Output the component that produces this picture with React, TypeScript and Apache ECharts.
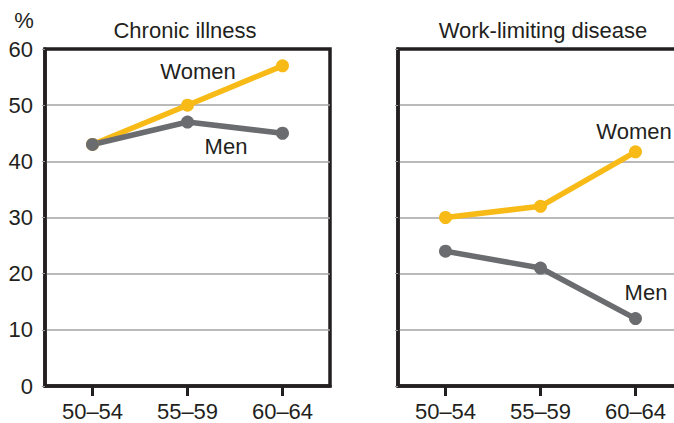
import React, { useEffect, useRef } from "react";
import * as echarts from "echarts";

const ageGroups = ["50–54", "55–59", "60–64"];
const chronicWomen = [43, 50, 57];
const chronicMen = [43, 47, 45];
const workWomen = [30, 32, 41.7];
const workMen = [24, 21, 12];
const yTicks = [0, 10, 20, 30, 40, 50, 60];

const WOMEN = "#F7BA16";
const MEN = "#6B6C6F";
const INK = "#231F20";
const FONT = "Liberation Sans, Arial, sans-serif";
const FS = 22;

// The drawing surface is a little wider than the visible frame so the
// right-hand panel runs off the edge, its closing border clipped away.
const VIEW_W = 674;
const VIEW_H = 423;
const CANVAS_W = 686;

export default function App() {
  const ref = useRef<HTMLDivElement>(null);

  useEffect(() => {
    if (!ref.current) return;
    const chart = echarts.init(ref.current, null, { renderer: "svg" });

    const xAxisBase = (gridIndex: number) => ({
      type: "category" as const,
      gridIndex,
      data: ageGroups,
      boundaryGap: true,
      axisLine: { show: true, lineStyle: { color: INK, width: 3.5 } },
      axisTick: {
        show: true,
        alignWithLabel: true,
        length: 10,
        lineStyle: { color: INK, width: 3 },
      },
      axisLabel: { color: INK, fontSize: FS, fontFamily: FONT, margin: 14 },
      splitLine: { show: false },
    });

    const yAxisBase = (gridIndex: number, showLabels: boolean) => ({
      type: "value" as const,
      gridIndex,
      min: yTicks[0],
      max: yTicks[yTicks.length - 1],
      interval: 10,
      axisLine: { show: true, lineStyle: { color: INK, width: 3.5 } },
      axisTick: { show: true, length: 3, lineStyle: { color: "#9A9A9A", width: 1 } },
      axisLabel: {
        show: showLabels,
        color: INK,
        fontSize: FS,
        fontFamily: FONT,
        margin: 12,
        padding: [6, 0, 0, 0],
      },
      splitLine: {
        show: true,
        showMinLine: false,
        showMaxLine: false,
        lineStyle: { color: "#A3A3A3", width: 1.5 },
      },
    });

    const lineSeries = (name: string, data: number[], color: string, idx: number) => ({
      name,
      type: "line" as const,
      xAxisIndex: idx,
      yAxisIndex: idx,
      data,
      symbol: "circle",
      symbolSize: 13,
      lineStyle: { color, width: 5.5 },
      itemStyle: { color },
      z: 5,
    });

    const label = (text: string, x: number, y: number) => ({
      type: "text",
      x,
      y,
      z: 10,
      style: {
        text,
        fontSize: FS,
        fontFamily: FONT,
        fill: INK,
        align: "center",
        verticalAlign: "middle",
      },
    });

    const gridBase = {
      top: 49,
      width: 285,
      bottom: 37,
      show: true,
      borderColor: INK,
      borderWidth: 3.5,
      containLabel: false,
    };

    chart.setOption({
      animation: false,
      backgroundColor: "#ffffff",
      grid: [
        { ...gridBase, left: 45 },
        { ...gridBase, left: 398 },
      ],
      xAxis: [xAxisBase(0), xAxisBase(1)],
      yAxis: [yAxisBase(0, true), yAxisBase(1, false)],
      series: [
        lineSeries("Women", chronicWomen, WOMEN, 0),
        lineSeries("Men", chronicMen, MEN, 0),
        lineSeries("Women", workWomen, WOMEN, 1),
        lineSeries("Men", workMen, MEN, 1),
      ],
      graphic: [
        label("%", 24, 20),
        label("Chronic illness", 185, 30),
        label("Work-limiting disease", 543, 30),
        label("Women", 198, 71),
        label("Men", 226, 146),
        label("Women", 634, 131),
        label("Men", 646, 292),
      ],
    });

    return () => chart.dispose();
  }, []);

  return (
    <div
      style={{
        width: VIEW_W,
        height: VIEW_H,
        position: "absolute",
        left: 0,
        top: 0,
        overflow: "hidden",
      }}
    >
      <div ref={ref} style={{ width: CANVAS_W, height: VIEW_H }} />
    </div>
  );
}
